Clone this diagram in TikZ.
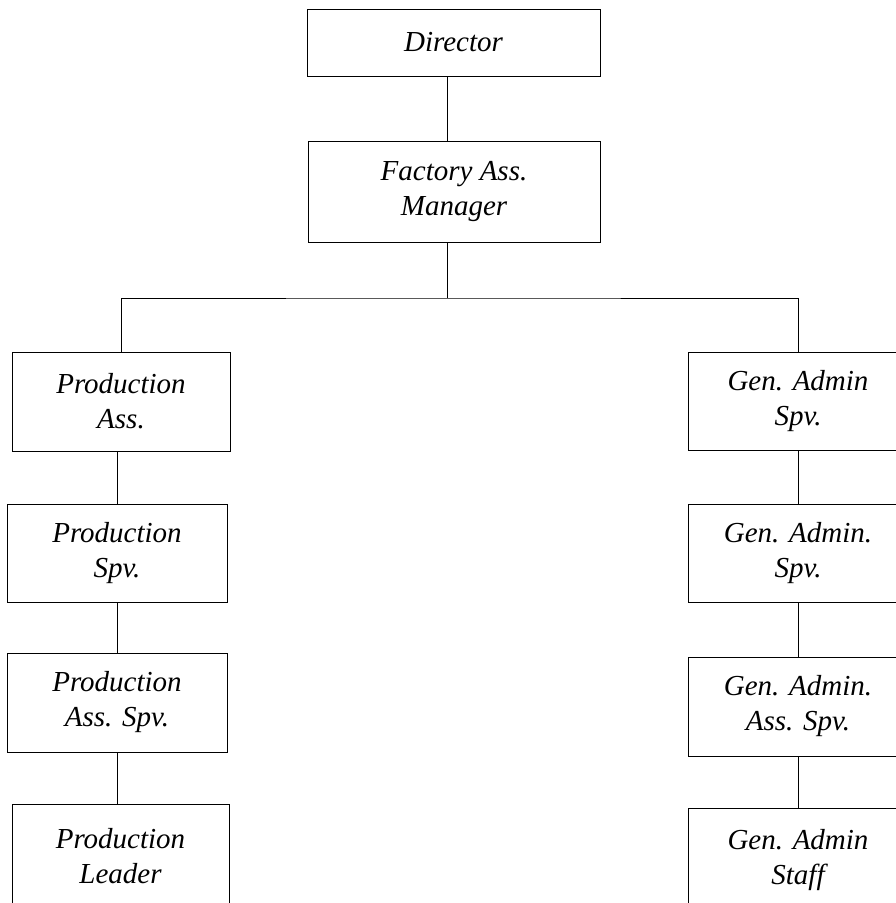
\documentclass[tikz,border=0pt]{standalone}
\usepackage{fontspec}
\setmainfont{Liberation Serif}
\usetikzlibrary{positioning}

\tikzset{
  post/.style={draw, rectangle, line width=1pt, minimum width=220pt, minimum height=99pt,
    align=center, inner sep=0pt, font=\fontsize{29}{35}\selectfont\itshape},
  link/.style={line width=1pt}
}

\begin{document}
\begin{tikzpicture}[x=1pt,y=-1pt]
            \useasboundingbox (0,0) rectangle (895,903);

            % Draw the top of the chart
            \node[post, minimum width=293pt, minimum height=67pt] (director) at (453.5,42.5) {Director};
            \node[post, minimum width=292pt, minimum height=101pt] (factory) at (454,191.5) {Factory Ass.\\Manager};
            \coordinate (split) at (447,298);

            % Draw the production column
            \node[post, minimum width=218pt] (prodass) at (121,401.5) {Production\\Ass.};
            \node[post, minimum height=98pt] (prodspv) at (117,553) {Production\\Spv.};
            \node[post] (prodassspv) at (117,702.5) {Production\\Ass. Spv.};
            \node[post, minimum width=217pt, minimum height=104pt] (prodleader) at (120.5,856) {Production\\Leader};

            % Draw the general admin column
            \node[post, minimum height=98pt] (genadmin) at (798,401) {Gen. Admin\\Spv.};
            \node[post, minimum height=98pt] (genspv) at (798,553) {Gen. Admin.\\Spv.};
            \node[post] (genassspv) at (798,706.5) {Gen. Admin.\\Ass. Spv.};
            \node[post, minimum height=104pt] (genstaff) at (798,860) {Gen. Admin\\Staff};

            % Draw the links
            \draw[link] (director.south -| split) -- (factory.north -| split);
            \draw[link] (factory.south -| split) -- (split);
            \draw[link] (prodass.north) |- (split) -| (genadmin.north);

            \draw[link] (prodass.south -| prodspv.north) -- (prodspv.north);
            \draw[link] (prodspv) -- (prodassspv);
            \draw[link] (prodassspv.south) -- (prodassspv.south |- prodleader.north);

            \draw[link] (genadmin) -- (genspv);
            \draw[link] (genspv) -- (genassspv);
            \draw[link] (genassspv) -- (genstaff);

        \end{tikzpicture}
\end{document}
